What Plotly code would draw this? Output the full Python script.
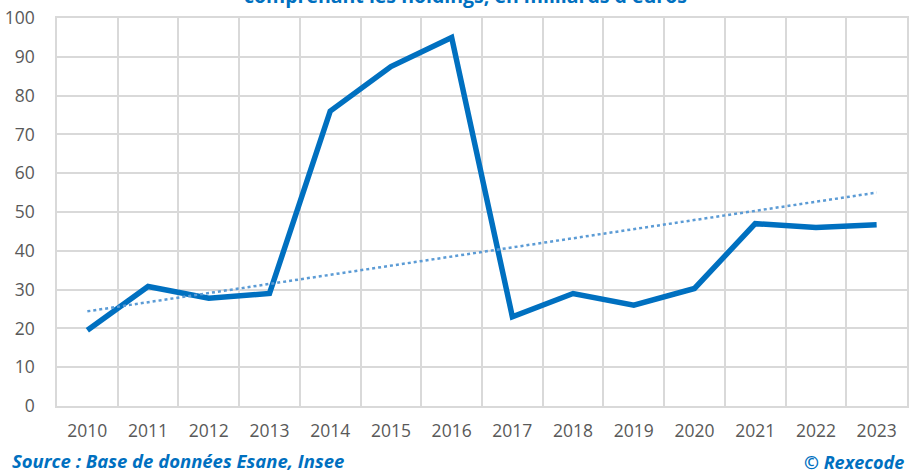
import plotly.graph_objects as go

years = ["2010", "2011", "2012", "2013", "2014", "2015", "2016",
         "2017", "2018", "2019", "2020", "2021", "2022", "2023"]
values = [19.5, 30.8, 27.8, 29.0, 76.0, 87.5, 95.0,
          23.0, 29.0, 26.0, 30.3, 47.0, 46.0, 46.7]
trend_years = ["2010", "2023"]
trend_values = [24.4, 55.0]
y_ticks = list(range(0, 101, 10))

title_text = "comprenant les holdings, en milliards d'euros"
source_text = "Source : Base de données Esane, Insee"
copyright_text = "© Rexecode"

blue = "#0070C0"
grid = "#d9d9d9"
font_family = "Open Sans, Noto Sans, sans-serif"

fig = go.Figure()

fig.add_trace(go.Scatter(
    x=years, y=values, mode="lines",
    line=dict(color=blue, width=5.5),
    showlegend=False, hoverinfo="skip",
))

# excel-style linear trend line
fig.add_trace(go.Scatter(
    x=trend_years, y=trend_values, mode="lines",
    line=dict(color="#5B9BD5", width=2.5, dash="dot"),
    showlegend=False, hoverinfo="skip",
))

fig.update_layout(
    width=912, height=473,
    margin=dict(l=57, r=5, t=18, b=67),
    paper_bgcolor="white", plot_bgcolor="white",
    font=dict(family=font_family, color="#595959", size=17),
    xaxis=dict(
        type="category", categoryorder="array", categoryarray=years,
        range=[-0.5, len(years) - 0.5], automargin=False,
        tickson="boundaries", showgrid=True, gridcolor=grid, gridwidth=1.5,
        showline=True, linecolor=grid, linewidth=1.5, mirror=True,
        ticks="", ticklabelstandoff=8, tickfont=dict(size=17.5, color="#595959"),
        zeroline=False,
    ),
    yaxis=dict(
        range=[0, 100], tickvals=y_ticks, showgrid=True, automargin=False,
        gridcolor=grid, gridwidth=1.5, zeroline=False,
        showline=True, linecolor=grid, linewidth=1.5, mirror=True,
        ticks="", ticklabelstandoff=17, tickfont=dict(size=17.5, color="#595959"),
    ),
)

# title is cut off at the top in the original image
fig.add_annotation(
    text="<b>" + title_text + "</b>", xref="paper", yref="paper",
    x=0.48, y=1, yanchor="middle", yshift=23, showarrow=False,
    font=dict(size=19.5, color=blue, family=font_family),
)
fig.add_annotation(
    text="<b><i>" + source_text + "</i></b>", xref="paper", yref="paper",
    x=0, xshift=-47, y=0, yanchor="middle", yshift=-54, xanchor="left",
    showarrow=False, font=dict(size=18.5, color=blue, family=font_family),
)
fig.add_annotation(
    text="<b><i>" + copyright_text + "</i></b>", xref="paper", yref="paper",
    x=1, xshift=-1, y=0, yanchor="middle", yshift=-56, xanchor="right",
    showarrow=False, font=dict(size=18, color=blue, family=font_family),
)

fig.write_html("out.html", config={"displayModeBar": False},
               post_script="document.body.style.margin = '0';")
